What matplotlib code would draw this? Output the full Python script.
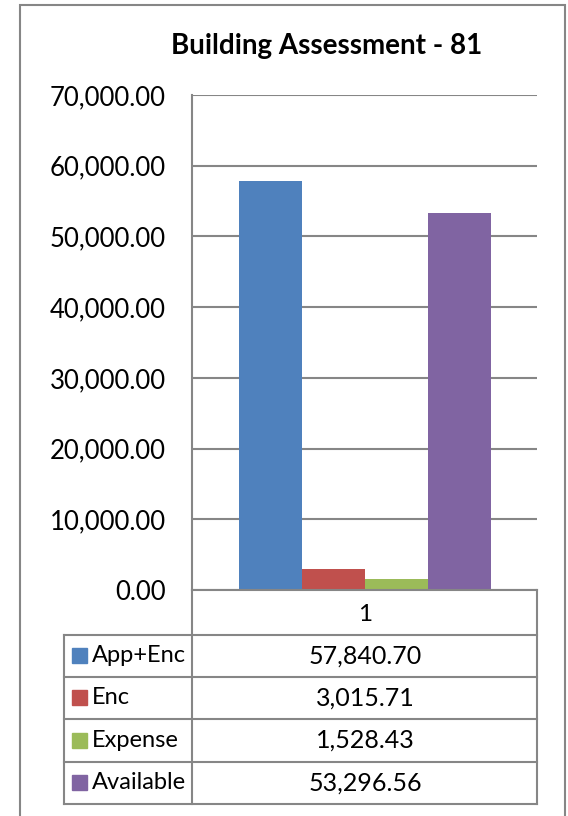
import matplotlib.pyplot as plt
from matplotlib.patches import Rectangle

plt.rcParams['font.family'] = ['Lato', 'DejaVu Sans']

title = "Building Assessment - 81"
category = ["1"]
series = ["App+Enc", "Enc", "Expense", "Available"]
values = [57840.70, 3015.71, 1528.43, 53296.56]
colors = ["#4F81BD", "#C0504D", "#9BBB59", "#8064A2"]
y_ticks = [0, 10000, 20000, 30000, 40000, 50000, 60000, 70000]

W, H = 568, 816
fig = plt.figure(figsize=(W / 100, H / 100), dpi=100)
grid_c = "#868686"
fs = 17.5

def fpos(x0, y0, x1, y1):
    # pixel box (top-left origin) -> figure fraction
    return [x0 / W, 1 - y1 / H, (x1 - x0) / W, (y1 - y0) / H]

# outer chart border
fig.patches.append(Rectangle((20 / W, -0.01), (565 - 20) / W, 1 - 5 / H + 0.01,
                             transform=fig.transFigure, fill=False,
                             edgecolor=grid_c, lw=1.5))

fig.text(327 / W, 1 - 46 / H, title, ha="center", va="center",
         fontsize=20, fontweight="bold")

# plot area
ax = fig.add_axes(fpos(192, 95, 537, 590))
n = len(values)
bw = 63 / 345
for i, (v, c) in enumerate(zip(values, colors)):
    ax.bar((i - (n - 1) / 2) * bw, v, width=bw, color=c, zorder=3)
ax.set_xlim(-0.5, 0.5)
ax.set_ylim(0, 70000)
ax.set_yticks(y_ticks)
ax.set_yticklabels([f"{t:,.2f}" for t in y_ticks], fontsize=18.5)
ax.tick_params(axis="y", length=0, pad=19)
ax.set_xticks([])
ax.grid(axis="y", color=grid_c, lw=1.5, zorder=0)
for s in ["top", "right", "bottom"]:
    ax.spines[s].set_visible(False)
ax.spines["left"].set_color(grid_c)
ax.spines["left"].set_linewidth(1.5)

# data table
tax = fig.add_axes(fpos(64, 590, 537, 804))
tax.set_xlim(64, 537)
tax.set_ylim(804, 590)
tax.axis("off")
row_y = [590, 635, 677, 719, 762, 804]
lk = dict(color=grid_c, lw=1.5, clip_on=False)
tax.plot([192, 537], [590, 590], **lk)
tax.plot([192, 192], [590, 804], **lk)
tax.plot([537, 537], [590, 804], **lk)
tax.plot([64, 64], [635, 804], **lk)
for y in row_y[1:]:
    tax.plot([64, 537], [y, y], **lk)
tax.text(365, (row_y[0] + row_y[1]) / 2 + 2, category[0], ha="center",
         va="center", fontsize=fs)
for i, (name, v, c) in enumerate(zip(series, values, colors)):
    yc = (row_y[i + 1] + row_y[i + 2]) / 2
    tax.add_patch(Rectangle((72, yc - 7.5), 15, 15, color=c, clip_on=False))
    tax.text(92, yc, name, ha="left", va="center", fontsize=17)
    tax.text(365, yc, f"{v:,.2f}", ha="center", va="center", fontsize=18)

fig.savefig("out.png", dpi=100)
